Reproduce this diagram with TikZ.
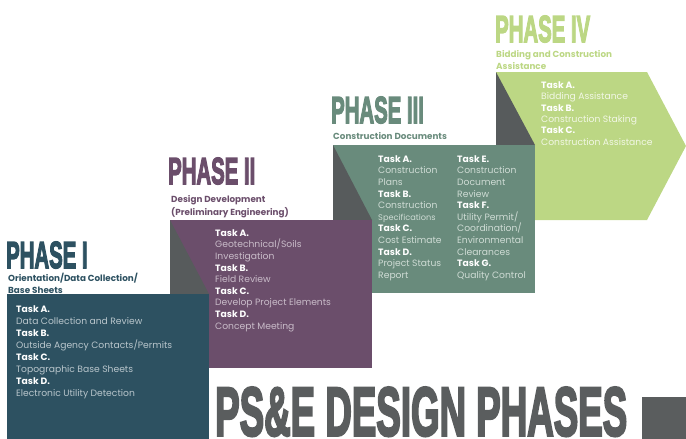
\documentclass[tikz,border=0pt]{standalone}
\usepackage{fontspec}
\setmainfont{Poppins}
\newfontfamily\headfont{Liberation Sans Bold}[FakeBold=4]
\usepackage{xcolor}
\usetikzlibrary{positioning}

\definecolor{phaseone}{HTML}{2D5161}
\definecolor{phasetwo}{HTML}{6B4E6B}
\definecolor{phasethree}{HTML}{698B7C}
\definecolor{phasefour}{HTML}{BCD784}
\definecolor{shadegrey}{HTML}{575B5C}
\definecolor{titlegrey}{HTML}{5A5D5E}
\definecolor{descone}{HTML}{B9C6CC}
\definecolor{desctwo}{HTML}{C9BCC9}
\definecolor{descthree}{HTML}{CFDCD5}
\definecolor{descfour}{HTML}{F2F7E6}

\newcommand{\squeezed}[1]{\scalebox{0.54}[1]{#1}}
\newcommand{\tk}[1]{{\bfseries\color{white}#1}}

\begin{document}
\begin{tikzpicture}[x=1pt,y=-1pt,
	heading/.style={anchor=base west, inner sep=0pt, font=\headfont\fontsize{37.7}{38}\selectfont},
	subhead/.style={anchor=north west, inner sep=0pt, align=left, font=\bfseries\fontsize{8.8}{12}\selectfont},
	tasklist/.style={anchor=north west, inner sep=0pt, align=left, font=\fontsize{9.2}{11.6}\selectfont}]
	
	\useasboundingbox (0,0) rectangle (686,439);
	
	% phase IV
	\fill [phasefour] (496,72) -- (647,72) -- (686,146) -- (647,220) -- (496,220) -- cycle;
	\fill [shadegrey] (496,72) -- (535,145) -- (496,145) -- cycle;
	\node [heading, text=phasefour] (headIV) at (495,42) {\squeezed{PHASE IV}};
	\node [subhead, text=phasefour, font=\bfseries\fontsize{8.8}{11.5}\selectfont] (subIV) at (496,50.5) {Bidding and Construction\\Assistance};
	\node [tasklist, text=descfour, font=\fontsize{9.2}{11.4}\selectfont] (tasksIV) at (541,81.2) {\tk{Task A.}\\Bidding Assistance\\\tk{Task B.}\\Construction Staking\\\tk{Task C.}\\Construction Assistance};
	
	% phase III
	\fill [phasethree] (333,145) rectangle (535,293);
	\fill [shadegrey] (333,145) -- (372,220) -- (333,220) -- cycle;
	\node [heading, text=phasethree] (headIII) at (331,123) {\squeezed{PHASE III}};
	\node [subhead, text=phasethree] (subIII) at (333,132.5) {Construction Documents};
	\node [tasklist, text=descthree] (tasksIIIa) at (378,155.2) {\tk{Task A.}\\Construction\\Plans\\\tk{Task B.}\\Construction\\{\fontsize{8.2}{11.6}\selectfont Specifications}\\\tk{Task C.}\\Cost Estimate\\\tk{Task D.}\\Project Status\\Report};
	\node [tasklist, text=descthree] (tasksIIIb) at (457,155.2) {\tk{Task E.}\\Construction\\Document\\Review\\\tk{Task F.}\\Utility Permit/\\Coordination/\\Environmental\\Clearances\\\tk{Task G.}\\Quality Control};
	
	% phase II
	\fill [phasetwo] (170,220) rectangle (372,368);
	\fill [shadegrey] (170,220) -- (209,294) -- (170,294) -- cycle;
	\node [heading, text=phasetwo] (headII) at (168,184) {\squeezed{PHASE II}};
	\node [subhead, text=phasetwo, font=\bfseries\fontsize{8.8}{13}\selectfont] (subII) at (171,195.5) {Design Development\\(Preliminary Engineering)};
	\node [tasklist, text=desctwo] (tasksII) at (215,229.2) {\tk{Task A.}\\Geotechnical/Soils\\Investigation\\\tk{Task B.}\\Field Review\\\tk{Task C.}\\Develop Project Elements\\\tk{Task D.}\\Concept Meeting};
	
	% phase I
	\fill [phaseone] (7,294) rectangle (209,439);
	\node [heading, text=phaseone] (headI) at (6,268) {\squeezed{PHASE I}};
	\node [subhead, text=phaseone] (subI) at (8,272.5) {Orientation/Data Collection/\\Base Sheets};
	\node [tasklist, text=descone, font=\fontsize{9.2}{12}\selectfont] (tasksI) at (16,305.2) {\tk{Task A.}\\Data Collection and Review\\\tk{Task B.}\\Outside Agency Contacts/Permits\\\tk{Task C.}\\Topographic Base Sheets\\\tk{Task D.}\\Electronic Utility Detection};
	
	% title
	\node [anchor=base west, inner sep=0pt, text=titlegrey, font=\headfont\fontsize{69}{69}\selectfont] (title) at (215,435.5) {\scalebox{0.532}[1]{PS\&E DESIGN PHASES}};
	\fill [titlegrey] (642,397) rectangle (686,439);
	
\end{tikzpicture}
\end{document}
